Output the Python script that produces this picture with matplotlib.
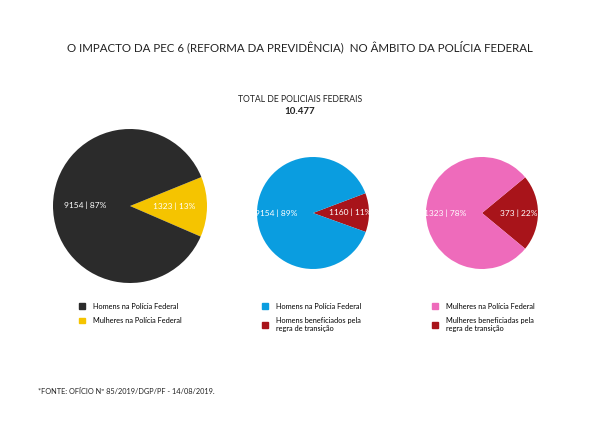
import numpy as np
import matplotlib.pyplot as plt
from matplotlib.patches import Patch

plt.rcParams['font.family'] = ['Lato', 'DejaVu Sans']

# data
pie1_labels = ["Mulheres na Polícia Federal", "Homens na Polícia Federal"]
pie1_values = [1323, 9154]
pie1_pct = [13, 87]
pie1_colors = ["#f5c400", "#2b2b2b"]

pie2_labels = ["Homens beneficiados pela\nregra de transição", "Homens na Polícia Federal"]
pie2_values = [1160, 9154]
pie2_pct = [11, 89]
pie2_colors = ["#a8141a", "#0a9de0"]

pie3_labels = ["Mulheres beneficiadas pela\nregra de transição", "Mulheres na Polícia Federal"]
pie3_values = [373, 1323]
pie3_pct = [22, 78]
pie3_colors = ["#a8141a", "#ee6bbb"]

W, H = 600, 424
fig = plt.figure(figsize=(6, 4.24), dpi=100)
fig.patch.set_facecolor("white")

fig.text(0.5, 1 - 47 / H, "O IMPACTO DA PEC 6 (REFORMA DA PREVIDÊNCIA)  NO ÂMBITO DA POLÍCIA FEDERAL",
         ha="center", va="center", fontsize=8.3, color="#222222")
fig.text(0.5, 1 - 99 / H, "TOTAL DE POLICIAIS FEDERAIS", ha="center", va="center", fontsize=6.2, color="#222222")
fig.text(0.5, 1 - 111 / H, "10.477", ha="center", va="center", fontsize=7, fontweight="bold", color="#222222")
fig.text(38 / W, 1 - 392 / H, "*FONTE: OFÍCIO Nº 85/2019/DGP/PF - 14/08/2019.", ha="left", va="center",
         fontsize=5.3, color="#222222")


def draw_pie(cx, cy, r, values, pct, colors, labels, pctdist, lx):
    ax = fig.add_axes([(cx - r) / W, 1 - (cy + r) / H, 2 * r / W, 2 * r / H])
    start = -pct[0] * 3.6 / 2
    wedges = ax.pie(values, colors=colors, startangle=start, counterclock=True,
                    wedgeprops=dict(linewidth=0))[0]
    for w, v, p in zip(wedges, values, pct):
        ang = np.deg2rad((w.theta1 + w.theta2) / 2)
        ax.text(pctdist * np.cos(ang), pctdist * np.sin(ang), f"{v} | {p}%",
                ha="center", va="center", color="white", fontsize=6)
    ax.set_xlim(-1, 1)
    ax.set_ylim(-1, 1)
    ax.set_aspect("equal")
    handles = [Patch(color=c, label=l) for c, l in zip(colors[::-1], labels[::-1])]
    fig.legend(handles=handles, loc="upper left", bbox_to_anchor=(lx / W, 1 - 296 / H),
               frameon=False, fontsize=5.3, handlelength=0.8, handleheight=0.8,
               labelspacing=1.0, handletextpad=1.2, prop={'family': ['Lato', 'DejaVu Sans'], 'size': 5.3})


draw_pie(130, 206, 77, pie1_values, pie1_pct, pie1_colors, pie1_labels, 0.58, 72)
draw_pie(313, 213, 56, pie2_values, pie2_pct, pie2_colors, pie2_labels, 0.66, 255)
draw_pie(482, 213, 56, pie3_values, pie3_pct, pie3_colors, pie3_labels, 0.66, 425)

fig.savefig("out.png", dpi=100)
